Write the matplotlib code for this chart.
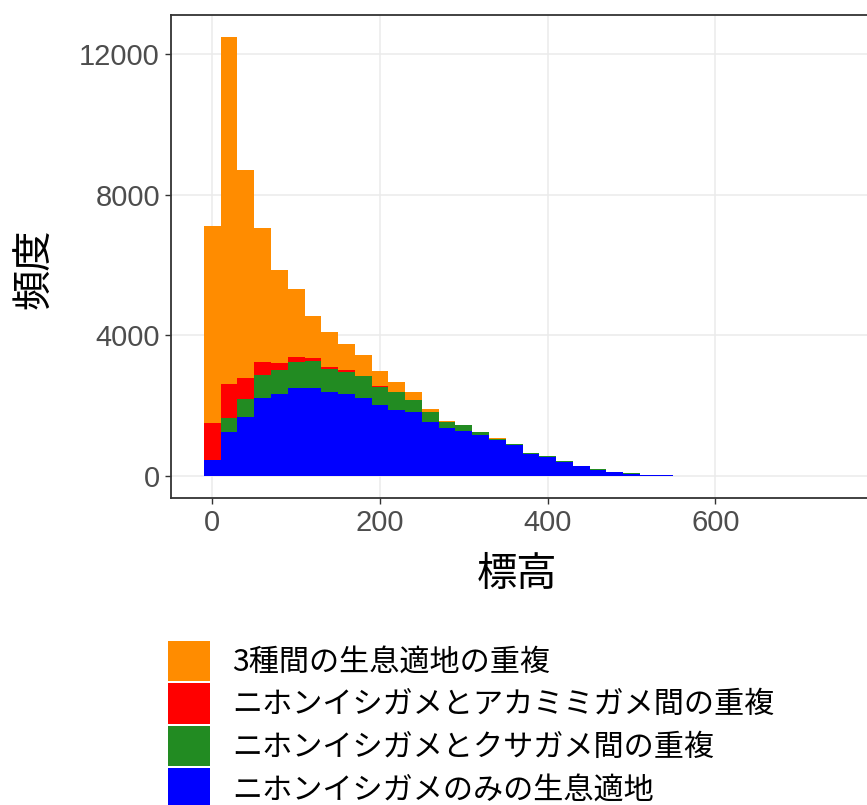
import matplotlib.pyplot as plt
import numpy as np
from matplotlib.patches import Patch

plt.rcParams['font.family'] = ['Noto Sans CJK JP', 'DejaVu Sans']

# bin centres (binwidth 20)
centers = np.arange(0, 560, 20)

# counts per layer
only_nihon = [470, 1240, 1680, 2220, 2320, 2500, 2510, 2380, 2330, 2210,
              2020, 1870, 1810, 1550, 1360, 1273, 1160, 1020, 877, 630,
              550, 410, 280, 185, 110, 72, 38, 24]
kusagame = [0, 410, 517, 650, 700, 735, 753, 650, 630, 620,
            520, 520, 340, 280, 177, 170, 94, 46, 28, 11,
            16, 14, 10, 4, 3, 3, 2, 1]
akamimi = [1030, 972, 603, 375, 190, 141, 85, 82, 40, 20,
           15, 10, 5, 2, 3, 2, 1, 0, 0, 0,
           0, 0, 0, 0, 0, 0, 0, 0]
three = [5600, 9858, 5900, 3805, 2646, 1952, 1207, 990, 760, 590,
         435, 283, 231, 82, 35, 15, 7, 4, 0, 0,
         0, 0, 0, 0, 0, 0, 0, 0]

labels = ['3種間の生息適地の重複',
          'ニホンイシガメとアカミミガメ間の重複',
          'ニホンイシガメとクサガメ間の重複',
          'ニホンイシガメのみの生息適地']
colors = ['#FF8C00', '#FF0000', '#228B22', '#0000FF']

fig = plt.figure(figsize=(8.67, 8.05), dpi=100)
ax = fig.add_axes([171/867, 1-498/805, (868-171)/867, (498-15)/805])

layers = [only_nihon, kusagame, akamimi, three]
layer_cols = [colors[3], colors[2], colors[1], colors[0]]
bottom = np.zeros(len(centers))
for vals, c in zip(layers, layer_cols):
    ax.bar(centers, vals, width=20, bottom=bottom, color=c, linewidth=0, zorder=2)
    bottom = bottom + np.array(vals)

ax.set_xlim(-49.3, 782)
ax.set_ylim(-624, 13104)
ax.set_xticks([0, 200, 400, 600])
ax.set_yticks([0, 4000, 8000, 12000])
ax.grid(True, color='#EBEBEB', linewidth=1.1, zorder=0)
ax.set_axisbelow(True)
for s in ax.spines.values():
    s.set_color('#333333')
    s.set_linewidth(1.3)
ax.tick_params(length=4, width=1, color='#333333', labelcolor='#4D4D4D',
               labelsize=21, pad=4)
for t in ax.get_xticklabels() + ax.get_yticklabels():
    t.set_fontfamily('Liberation Sans')

fig.text(517/867, 1-574/805, '標高', ha='center', va='center', fontsize=29)
fig.text(35/867, 1-269/805, '頻度', ha='center', va='center', fontsize=29,
         rotation=90)

handles = [Patch(facecolor=c, edgecolor='none') for c in colors]
fig.legend(handles, labels, loc='upper left',
           bbox_to_anchor=(168/867, 1-641/805), frameon=False,
           fontsize=21.7, handlelength=1.4, handleheight=1.68,
           labelspacing=0.07, handletextpad=0.72, borderpad=0, borderaxespad=0)

fig.savefig('out.png', dpi=100)
